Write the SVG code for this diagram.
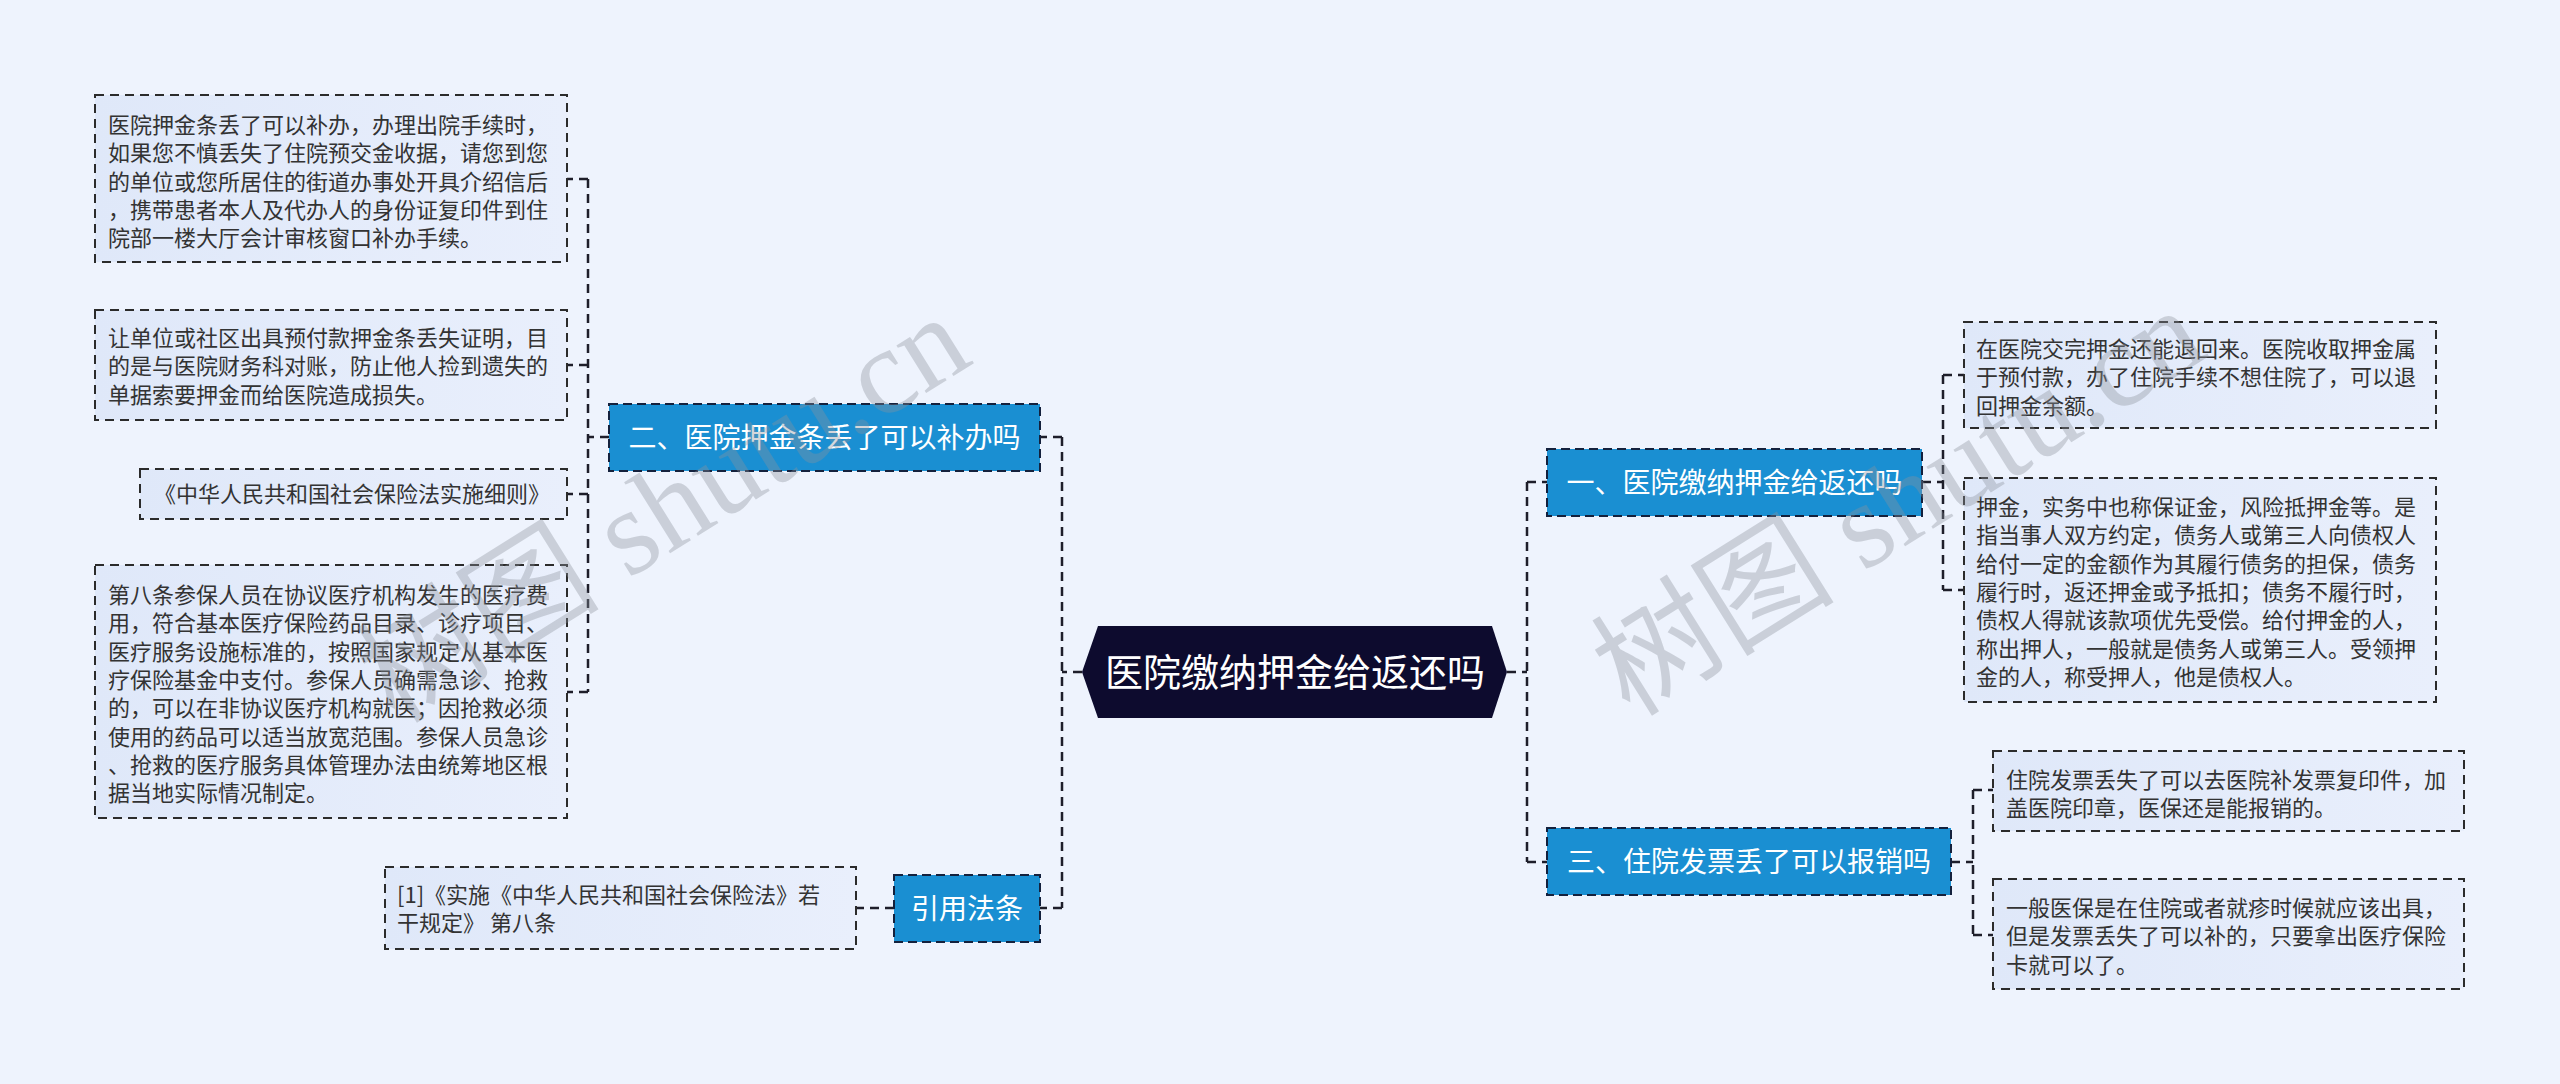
<svg xmlns="http://www.w3.org/2000/svg" width="2560" height="1084" viewBox="0 0 2560 1084">
<defs>
<linearGradient id="leafg" x1="0" y1="0" x2="1" y2="0">
<stop offset="0" stop-color="#dfe8f9"/>
<stop offset="1" stop-color="#e9effc"/>
</linearGradient>
<style>
.leaf rect{fill:url(#leafg);stroke:#2b2b2b;stroke-width:2;stroke-dasharray:9 6}
.leaf text{font-family:"Noto Sans CJK SC","Noto Sans",sans-serif;font-size:22px;fill:#333}
.node rect{fill:#1a8fd2;stroke:#14213d;stroke-width:2;stroke-dasharray:9 5}
.node text{font-family:"Noto Sans CJK SC","Noto Sans",sans-serif;font-size:28px;fill:#fff;text-anchor:middle}
.conn path{fill:none;stroke:#1e1e2a;stroke-width:2.5;stroke-dasharray:9 6}
.wm{font-family:"Liberation Serif","Noto Sans CJK SC",serif;font-size:122px;fill:#8c929c;opacity:0.36}
</style>
</defs>
<rect width="2560" height="1084" fill="#eef3fd"/>

<g class="conn" id="connectors">
<path d="M1082,672 H1062"/>
<path d="M1062,437 V908"/>
<path d="M1062,437 H1040"/>
<path d="M1062,908 H1040"/>
<path d="M609,437 H588"/>
<path d="M588,179 V692"/>
<path d="M588,179 H567"/>
<path d="M588,365 H567"/>
<path d="M588,494 H567"/>
<path d="M588,692 H567"/>
<path d="M894,908 H856"/>
<path d="M1507,672 H1527"/>
<path d="M1527,482 V862"/>
<path d="M1527,482 H1547"/>
<path d="M1527,862 H1547"/>
<path d="M1922,482 H1943"/>
<path d="M1943,375 V590"/>
<path d="M1943,375 H1964"/>
<path d="M1943,590 H1964"/>
<path d="M1951,862 H1973"/>
<path d="M1973,790 V935"/>
<path d="M1973,790 H1993"/>
<path d="M1973,935 H1993"/>
</g>

<g id="root">
<polygon points="1082,672 1098,626 1492,626 1507,672 1492,718 1098,718" fill="#0d0b2e"/>
<text x="1295" y="686" font-family="'Noto Sans CJK SC','Noto Sans',sans-serif" font-size="38" fill="#fff" text-anchor="middle">医院缴纳押金给返还吗</text>
</g>

<g class="node" id="n2">
<rect x="609" y="404" width="431" height="67"/>
<text x="824.5" y="447.5">二、医院押金条丢了可以补办吗</text>
</g>
<g class="node" id="n1">
<rect x="1547" y="449" width="375" height="67"/>
<text x="1734.5" y="492.5">一、医院缴纳押金给返还吗</text>
</g>
<g class="node" id="n3">
<rect x="1547" y="828" width="404" height="67"/>
<text x="1749" y="871.5">三、住院发票丢了可以报销吗</text>
</g>
<g class="node" id="ncite">
<rect x="894" y="875" width="146" height="67"/>
<text x="967" y="918.5">引用法条</text>
</g>

<g class="leaf" id="l1">
<rect x="95" y="95" width="472" height="167"/>
<text x="108" y="133">医院押金条丢了可以补办，办理出院手续时，</text>
<text x="108" y="161.3">如果您不慎丢失了住院预交金收据，请您到您</text>
<text x="108" y="189.6">的单位或您所居住的街道办事处开具介绍信后</text>
<text x="108" y="217.9">，携带患者本人及代办人的身份证复印件到住</text>
<text x="108" y="246.2">院部一楼大厅会计审核窗口补办手续。</text>
</g>
<g class="leaf" id="l2">
<rect x="95" y="310" width="472" height="110"/>
<text x="108" y="346">让单位或社区出具预付款押金条丢失证明，目</text>
<text x="108" y="374.3">的是与医院财务科对账，防止他人捡到遗失的</text>
<text x="108" y="402.6">单据索要押金而给医院造成损失。</text>
</g>
<g class="leaf" id="l3">
<rect x="140" y="469" width="427" height="50"/>
<text x="154" y="502">《中华人民共和国社会保险法实施细则》</text>
</g>
<g class="leaf" id="l4">
<rect x="95" y="565" width="472" height="253"/>
<text x="108" y="603">第八条参保人员在协议医疗机构发生的医疗费</text>
<text x="108" y="631.3">用，符合基本医疗保险药品目录、诊疗项目、</text>
<text x="108" y="659.6">医疗服务设施标准的，按照国家规定从基本医</text>
<text x="108" y="687.9">疗保险基金中支付。参保人员确需急诊、抢救</text>
<text x="108" y="716.2">的，可以在非协议医疗机构就医；因抢救必须</text>
<text x="108" y="744.5">使用的药品可以适当放宽范围。参保人员急诊</text>
<text x="108" y="772.8">、抢救的医疗服务具体管理办法由统筹地区根</text>
<text x="108" y="801.1">据当地实际情况制定。</text>
</g>
<g class="leaf" id="l5">
<rect x="385" y="867" width="471" height="82"/>
<text x="397" y="903">[1]《实施《中华人民共和国社会保险法》若</text>
<text x="397" y="931.3">干规定》 第八条</text>
</g>
<g class="leaf" id="r1">
<rect x="1964" y="322" width="472" height="106"/>
<text x="1976" y="357">在医院交完押金还能退回来。医院收取押金属</text>
<text x="1976" y="385.3">于预付款，办了住院手续不想住院了，可以退</text>
<text x="1976" y="413.6">回押金余额。</text>
</g>
<g class="leaf" id="r2">
<rect x="1964" y="478" width="472" height="224"/>
<text x="1976" y="515">押金，实务中也称保证金，风险抵押金等。是</text>
<text x="1976" y="543.3">指当事人双方约定，债务人或第三人向债权人</text>
<text x="1976" y="571.6">给付一定的金额作为其履行债务的担保，债务</text>
<text x="1976" y="599.9">履行时，返还押金或予抵扣；债务不履行时，</text>
<text x="1976" y="628.2">债权人得就该款项优先受偿。给付押金的人，</text>
<text x="1976" y="656.5">称出押人，一般就是债务人或第三人。受领押</text>
<text x="1976" y="684.8">金的人，称受押人，他是债权人。</text>
</g>
<g class="leaf" id="r3">
<rect x="1993" y="751" width="471" height="80"/>
<text x="2006" y="788">住院发票丢失了可以去医院补发票复印件，加</text>
<text x="2006" y="816.3">盖医院印章，医保还是能报销的。</text>
</g>
<g class="leaf" id="r4">
<rect x="1993" y="879" width="471" height="110"/>
<text x="2006" y="916">一般医保是在住院或者就疹时候就应该出具，</text>
<text x="2006" y="944.3">但是发票丢失了可以补的，只要拿出医疗保险</text>
<text x="2006" y="972.6">卡就可以了。</text>
</g>

<text class="wm" x="395" y="725" transform="rotate(-32 395 725)">树图 shutu.cn</text>
<text class="wm" x="1630" y="718" transform="rotate(-32 1630 718)">树图 shutu.cn</text>
</svg>
